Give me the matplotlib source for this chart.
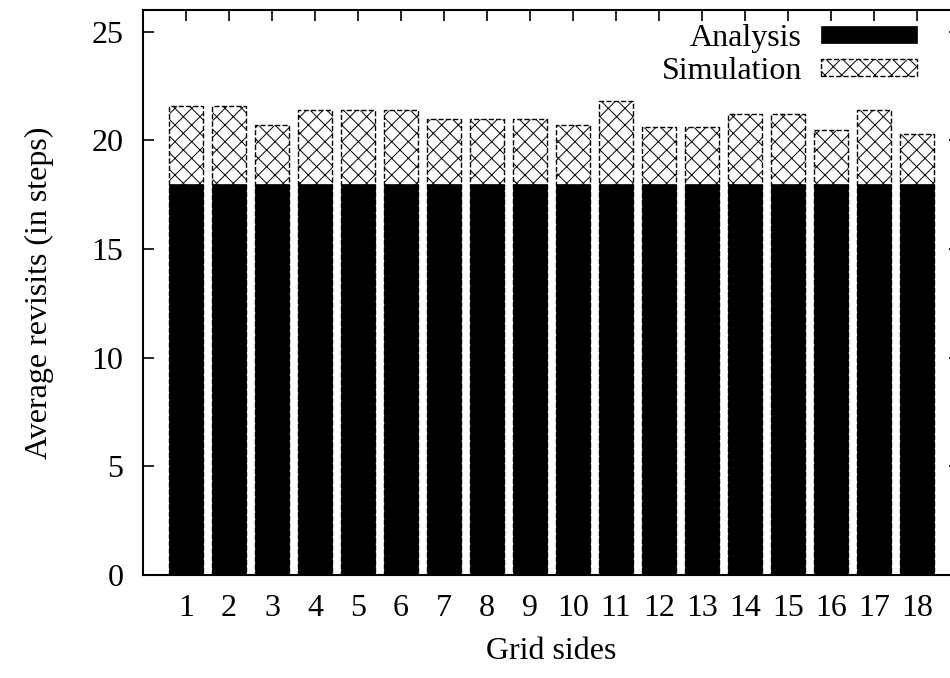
import matplotlib
matplotlib.use("Agg")
import matplotlib.pyplot as plt
import numpy as np

categories = list(range(1, 19))
analysis = [18.0] * 18
simulation = [21.6, 21.6, 20.7, 21.4, 21.4, 21.4, 21.0, 21.0, 21.0,
              20.7, 21.8, 20.6, 20.6, 21.2, 21.2, 20.5, 21.4, 20.3]
yticks = [0, 5, 10, 15, 20, 25]

plt.rcParams['font.family'] = ['Liberation Serif', 'DejaVu Serif']
plt.rcParams['font.size'] = 23
plt.rcParams['hatch.linewidth'] = 0.7

fig = plt.figure(figsize=(9.5, 6.78), dpi=100)
ax = fig.add_axes([143/950, 1 - 575/678, (960 - 143)/950, (575 - 10)/678])

x = np.array(categories)
w = 0.77
ax.bar(x, simulation, width=w, facecolor='white', edgecolor='black',
       hatch='xx', linestyle='--', linewidth=1.0, label='Simulation', zorder=2)
ax.bar(x, analysis, width=w, facecolor='black', edgecolor='black',
       linewidth=0.5, label='Analysis', zorder=3)

ax.set_xlim(0, 19)
ax.set_ylim(0, 26)
ax.set_xticks(categories)
ax.set_xticklabels([str(c) for c in categories])
ax.set_yticks(yticks)
ax.tick_params(direction='in', length=8, width=1.2, top=True, right=True,
               labelsize=23)
ax.tick_params(axis='y', pad=14)
ax.tick_params(axis='x', pad=14)
for s in ax.spines.values():
    s.set_linewidth(1.5)
    s.set_zorder(5)

ax.set_xlabel('Grid sides', fontsize=23, labelpad=10)
ax.set_ylabel('Average revisits (in steps)', fontsize=23, labelpad=27)

h, l = ax.get_legend_handles_labels()
leg = ax.legend(h[::-1], l[::-1], loc='upper right', markerfirst=False,
                frameon=False, bbox_to_anchor=(917/950, 1 - 24/678),
                bbox_transform=fig.transFigure, borderpad=0, borderaxespad=0,
                handlelength=3.0, handleheight=0.45, handletextpad=0.6,
                labelspacing=0.12, fontsize=23)

fig.savefig('out.png', dpi=100)
